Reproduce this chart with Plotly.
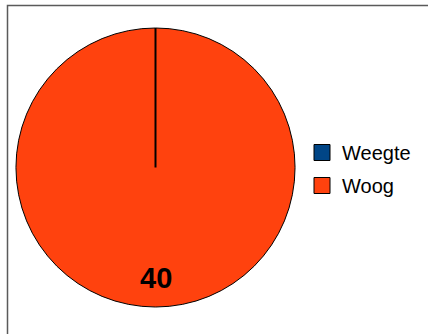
import plotly.graph_objects as go

# Slice data
labels = ["Weegte", "Woog"]
values = [0, 40]
colors = ["#004586", "#ff420e"]

W, H = 428, 334

# Pie placement in pixels (left, right, top, bottom)
pie_px = (16, 295, 28, 307)
dom_x = [pie_px[0] / W, pie_px[1] / W]
dom_y = [1 - pie_px[3] / H, 1 - pie_px[2] / H]

fig = go.Figure(
    go.Pie(
        labels=labels,
        values=values,
        marker=dict(colors=colors, line=dict(color="#000000", width=1)),
        sort=False,
        direction="clockwise",
        rotation=0,
        textinfo="none",
        hoverinfo="label+value",
        showlegend=False,
        domain=dict(x=dom_x, y=dom_y),
    )
)

# Legend entries with larger square swatches
for i, (lab, col) in enumerate(zip(labels, colors)):
    fig.add_trace(go.Scatter(
        x=[None], y=[None], mode="markers", name=lab,
        legendgroup=f"g{i}",
        marker=dict(symbol="square", size=16, color=col,
                    line=dict(color="#000000", width=1)),
        hoverinfo="skip",
    ))

# Pie centre/radius in paper coordinates
cx = (dom_x[0] + dom_x[1]) / 2
cy = (dom_y[0] + dom_y[1]) / 2
r_y = (dom_y[1] - dom_y[0]) / 2

# Boundary of the zero-size slice at 12 o'clock
fig.add_shape(type="line", xref="paper", yref="paper",
              x0=cx, y0=cy, x1=cx, y1=dom_y[1],
              line=dict(color="#000000", width=2))

# Value label of the non-zero slice
fig.add_annotation(xref="paper", yref="paper", x=cx, y=cy - r_y * 0.79,
                   yanchor="middle", xanchor="center",
                   text=f"<b>{values[1]}</b>", showarrow=False,
                   font=dict(family="Liberation Sans, Arial", size=29, color="#000000"))

# Outer frame
fig.add_shape(type="rect", xref="paper", yref="paper",
              x0=7.5 / W, y0=-0.1, x1=1.1, y1=1 - 5.5 / H,
              line=dict(color="#5a5a5a", width=1.5))

fig.update_layout(
    width=W, height=H,
    margin=dict(l=0, r=0, t=0, b=0),
    paper_bgcolor="white",
    plot_bgcolor="white",
    font=dict(family="Liberation Sans, Arial", color="#000000"),
    xaxis=dict(visible=False),
    yaxis=dict(visible=False),
    legend=dict(x=302 / W, xanchor="left", y=1 - 169 / H, yanchor="middle",
                font=dict(size=20), tracegroupgap=4, itemsizing="trace",
                bgcolor="rgba(0,0,0,0)"),
)

fig.write_html("out.html")
